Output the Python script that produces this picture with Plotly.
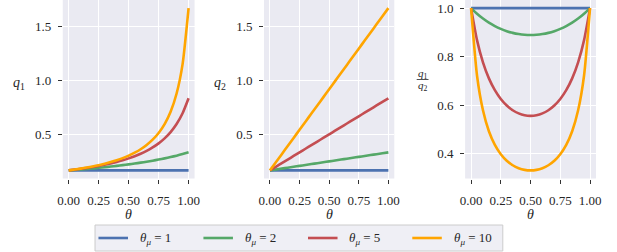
import plotly.graph_objects as go

W, H = 617, 252

theta = [0.00, 0.05, 0.10, 0.15, 0.20, 0.25, 0.30, 0.35, 0.40, 0.45, 0.50,
         0.55, 0.60, 0.65, 0.70, 0.75, 0.80, 0.85, 0.90, 0.95, 1.00]

labels = ["<i>θ</i><sub><i>μ</i></sub> = 1", "<i>θ</i><sub><i>μ</i></sub> = 2",
          "<i>θ</i><sub><i>μ</i></sub> = 5", "<i>θ</i><sub><i>μ</i></sub> = 10"]
colors = ["#4C72B0", "#55A868", "#C44E52", "#FFA500"]

q1_mu1 = [0.1667] * 21
q1_mu2 = [0.1667, 0.1709, 0.1754, 0.1802, 0.1852, 0.1905, 0.1961, 0.2020, 0.2083, 0.2151, 0.2222,
          0.2299, 0.2381, 0.2469, 0.2564, 0.2667, 0.2778, 0.2899, 0.3030, 0.3175, 0.3333]
q1_mu5 = [0.1667, 0.1736, 0.1812, 0.1894, 0.1984, 0.2083, 0.2193, 0.2315, 0.2451, 0.2604, 0.2778,
          0.2976, 0.3205, 0.3472, 0.3788, 0.4167, 0.4630, 0.5208, 0.5952, 0.6944, 0.8333]
q1_mu10 = [0.1667, 0.1745, 0.1832, 0.1927, 0.2033, 0.2151, 0.2283, 0.2433, 0.2604, 0.2801, 0.3030,
           0.3300, 0.3623, 0.4016, 0.4505, 0.5128, 0.5952, 0.7092, 0.8772, 1.1494, 1.6667]

q2_mu1 = [0.1667] * 21
q2_mu2 = [0.1667, 0.1750, 0.1833, 0.1917, 0.2000, 0.2083, 0.2167, 0.2250, 0.2333, 0.2417, 0.2500,
          0.2583, 0.2667, 0.2750, 0.2833, 0.2917, 0.3000, 0.3083, 0.3167, 0.3250, 0.3333]
q2_mu5 = [0.1667, 0.2000, 0.2333, 0.2667, 0.3000, 0.3333, 0.3667, 0.4000, 0.4333, 0.4667, 0.5000,
          0.5333, 0.5667, 0.6000, 0.6333, 0.6667, 0.7000, 0.7333, 0.7667, 0.8000, 0.8333]
q2_mu10 = [0.1667, 0.2417, 0.3167, 0.3917, 0.4667, 0.5417, 0.6167, 0.6917, 0.7667, 0.8417, 0.9167,
           0.9917, 1.0667, 1.1417, 1.2167, 1.2917, 1.3667, 1.4417, 1.5167, 1.5917, 1.6667]

ratio_mu1 = [1.0] * 21
ratio_mu2 = [1.0, 0.9768, 0.9569, 0.9401, 0.9259, 0.9143, 0.9050, 0.8979, 0.8929, 0.8899, 0.8889,
             0.8899, 0.8929, 0.8979, 0.9050, 0.9143, 0.9259, 0.9401, 0.9569, 0.9768, 1.0]
ratio_mu5 = [1.0, 0.8681, 0.7764, 0.7102, 0.6614, 0.6250, 0.5981, 0.5787, 0.5656, 0.5580, 0.5556,
             0.5580, 0.5656, 0.5787, 0.5981, 0.6250, 0.6614, 0.7102, 0.7764, 0.8681, 1.0]
ratio_mu10 = [1.0, 0.7222, 0.5784, 0.4919, 0.4355, 0.3970, 0.3702, 0.3518, 0.3397, 0.3328, 0.3306,
              0.3328, 0.3397, 0.3518, 0.3702, 0.3970, 0.4355, 0.4919, 0.5784, 0.7222, 1.0]

x_ticks = [0.0, 0.25, 0.5, 0.75, 1.0]
x_ticktext = ["0.00", "0.25", "0.50", "0.75", "1.00"]
q_ticks = [0.5, 1.0, 1.5]
q_ticktext = ["0.5", "1.0", "1.5"]
r_ticks = [0.4, 0.6, 0.8, 1.0]
r_ticktext = ["0.4", "0.6", "0.8", "1.0"]

panels = [
    [q1_mu1, q1_mu2, q1_mu5, q1_mu10],
    [q2_mu1, q2_mu2, q2_mu5, q2_mu10],
    [ratio_mu1, ratio_mu2, ratio_mu5, ratio_mu10],
]

FONT = '"Liberation Serif", "Times New Roman", "DejaVu Serif", serif'
TXT = "#262626"
BG = "#EAEAF2"

def px_x(p):
    return p / W

def px_y(p):
    return 1 - p / H

x_domains = [(58.7, 192.7), (263.3, 395.7), (467.7, 600.7)]
y_domain = [px_y(178.5), 1.0]

fig = go.Figure()

for i, series in enumerate(panels):
    ax = "" if i == 0 else str(i + 1)
    for j, ys in enumerate(series):
        fig.add_trace(go.Scatter(
            x=theta, y=ys, mode="lines",
            line=dict(color=colors[j], width=2.6, shape="spline", smoothing=0.6),
            name=labels[j], showlegend=False,
            xaxis="x" + ax, yaxis="y" + ax, hoverinfo="skip",
        ))

axis_common = dict(
    showgrid=True, gridcolor="white", gridwidth=1, zeroline=False,
    showline=False, ticks="outside", ticklen=4, tickwidth=1, tickcolor="#333333",
    tickfont=dict(family=FONT, size=13, color=TXT),
)

layout = {}
for i in range(3):
    ax = "" if i == 0 else str(i + 1)
    d0, d1 = x_domains[i]
    layout["xaxis" + ax] = dict(
        axis_common, domain=[px_x(d0), px_x(d1)], range=[-0.05, 1.05],
        tickvals=x_ticks, ticktext=x_ticktext, anchor="y" + ax,
        ticklabelstandoff=6,
    )
    if i < 2:
        yr, tv, tt = [0.0917, 1.7417], q_ticks, q_ticktext
    else:
        yr, tv, tt = [0.2971, 1.0335], r_ticks, r_ticktext
    layout["yaxis" + ax] = dict(
        axis_common, domain=y_domain, range=yr,
        tickvals=tv, ticktext=tt, anchor="x" + ax,
        ticklabelstandoff=4,
    )

fig.update_layout(**layout)

annotations = []
shapes = []
# x-axis titles
for d0, d1 in x_domains:
    annotations.append(dict(
        x=px_x((d0 + d1) / 2), y=px_y(214), xref="paper", yref="paper",
        text="<i>θ</i>", showarrow=False, xanchor="center", yanchor="middle",
        font=dict(family=FONT, size=14, color=TXT),
    ))
# y-axis titles (horizontal)
annotations.append(dict(
    x=px_x(14.5), y=px_y(84), xref="paper", yref="paper",
    text="<i>q</i><sub>1</sub>", showarrow=False, xanchor="center", yanchor="middle",
    font=dict(family=FONT, size=14, color=TXT),
))
annotations.append(dict(
    x=px_x(218.5), y=px_y(84), xref="paper", yref="paper",
    text="<i>q</i><sub>2</sub>", showarrow=False, xanchor="center", yanchor="middle",
    font=dict(family=FONT, size=14, color=TXT),
))
annotations.append(dict(
    x=px_x(424.5), y=px_y(74), xref="paper", yref="paper",
    text="<i>q</i><sub>1</sub>", showarrow=False, xanchor="center", yanchor="middle",
    font=dict(family=FONT, size=11, color=TXT),
))
annotations.append(dict(
    x=px_x(424.5), y=px_y(86), xref="paper", yref="paper",
    text="<i>q</i><sub>2</sub>", showarrow=False, xanchor="center", yanchor="middle",
    font=dict(family=FONT, size=11, color=TXT),
))
shapes.append(dict(
    type="line", xref="paper", yref="paper",
    x0=px_x(418.5), x1=px_x(430.5), y0=px_y(79.5), y1=px_y(79.5),
    line=dict(color=TXT, width=0.8),
))

# legend (box, line samples, labels)
shapes.append(dict(
    type="rect", xref="paper", yref="paper",
    x0=px_x(91.5), x1=px_x(506), y0=px_y(225), y1=px_y(251),
    fillcolor="#EFEFF5", line=dict(color="#CCCCCC", width=1), layer="above",
))
leg_line_starts = [95, 201.7, 308, 414]
for j in range(4):
    s = leg_line_starts[j]
    shapes.append(dict(
        type="line", xref="paper", yref="paper",
        x0=px_x(s), x1=px_x(s + 30), y0=px_y(238), y1=px_y(238),
        line=dict(color=colors[j], width=2.6), layer="above",
    ))
    annotations.append(dict(
        x=px_x(s + 40), y=px_y(238), xref="paper", yref="paper",
        text=labels[j], showarrow=False, xanchor="left", yanchor="middle",
        font=dict(family=FONT, size=13, color=TXT),
    ))

fig.update_layout(
    width=W, height=H,
    margin=dict(l=0, r=0, t=0, b=0),
    paper_bgcolor="white", plot_bgcolor=BG,
    annotations=annotations, shapes=shapes,
    showlegend=False,
)

fig.write_html(
    "out.html",
    config={"displayModeBar": False},
    post_script="document.body.style.margin='0';document.body.style.overflow='hidden';",
)
